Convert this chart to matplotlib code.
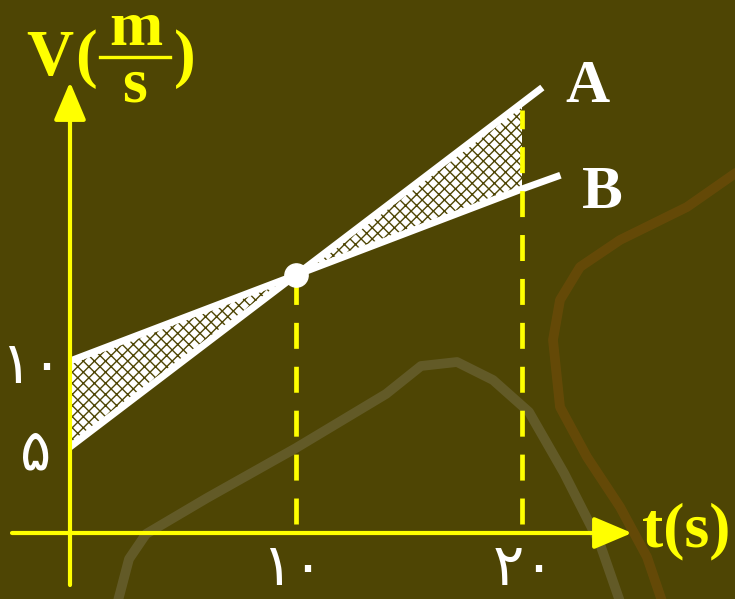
import numpy as np
import matplotlib
matplotlib.use("Agg")
from matplotlib import pyplot as plt
from matplotlib.transforms import Affine2D

# velocity-time lines (t in s, v in m/s)
t_A = [0, 10, 20, 20.9]
v_A = [5, 15, 25, 25.9]
t_B = [0, 10, 20, 21.7]
v_B = [10, 15, 20, 20.8]
t_fill = [0, 10, 20]
fill_A = [5, 15, 25]
fill_B = [10, 15, 20]
t_marks = [10, 20]
v_marks = [15, 25]
x_ticks = ["۱۰", "۲۰"]
y_ticks = ["۱۰", "۵"]
y_tick_vals = [10, 5]

# faint background strokes from the photo (pixel coords)
grey_x = [114, 129, 146, 207, 296, 386, 421, 457, 493, 529, 564, 600, 625]
grey_y = [616, 559, 534, 498, 448, 394, 366, 362, 380, 412, 473, 544, 616]
orange_x = [740, 687, 620, 580, 560, 553, 560, 587, 620, 647, 665]
orange_y = [170, 207, 240, 267, 300, 340, 407, 457, 507, 557, 610]

BG = "#4e4504"
YEL = "#ffff00"
W, H = 735, 599

fig = plt.figure(figsize=(7.35, 5.99), dpi=100, facecolor=BG)
ax = fig.add_axes([0, 0, 1, 1])
ax.set_facecolor(BG)
ax.set_xlim(-70 / 22.6, 665 / 22.6)
ax.set_ylim(-66 / 17.2, 533 / 17.2)
ax.axis("off")

pix = Affine2D().scale(1 / W, -1 / H).translate(0, 1) + fig.transFigure
ax.plot(grey_x, grey_y, color="#77704a", lw=7, alpha=0.5, transform=pix,
        solid_joinstyle="round", solid_capstyle="round", zorder=1)
ax.plot(orange_x, orange_y, color="#80500c", lw=7, alpha=0.45, transform=pix,
        solid_joinstyle="round", solid_capstyle="round", zorder=1)

# shaded area between the lines
plt.rcParams["hatch.linewidth"] = 1.0
ax.fill_between(t_fill, fill_A, fill_B, facecolor="white", edgecolor=BG,
                hatch="xxx", linewidth=0, zorder=3)
ax.plot(t_A, v_A, color="white", lw=5, solid_capstyle="butt", zorder=4)
ax.plot(t_B, v_B, color="white", lw=5, solid_capstyle="butt", zorder=4)
ax.scatter([t_marks[0]], [v_marks[0]], s=280, color="white", zorder=6)

# dashed guides
for t, v in zip(t_marks, v_marks):
    ax.plot([t, t], [0.5, v - 0.4], color=YEL, lw=3.4,
            linestyle=(0, (5.5, 3.8)), zorder=5)

# axes with arrows
arrow = dict(arrowstyle="-|>,head_length=1.3,head_width=0.55", color=YEL,
             lw=3, mutation_scale=18, shrinkA=0, shrinkB=0)
ax.annotate("", xy=(562 / 22.6, 0), xytext=(-58 / 22.6, 0), arrowprops=arrow, zorder=5)
ax.annotate("", xy=(0, 451 / 17.2), xytext=(0, -52 / 17.2), arrowprops=arrow, zorder=5)

# labels
serif = dict(family="Liberation Serif", weight="bold")
ft = fig.transFigure
def fx(x):
    return x / W
def fy(y):
    return 1 - y / H

fig.text(fx(50), fy(75), "V", color=YEL, fontsize=47, ha="center", va="baseline", **serif)
fig.text(fx(86), fy(59), "(", color=YEL, fontsize=47, ha="center", va="center", **serif)
fig.text(fx(136), fy(45), "m", color=YEL, fontsize=46, ha="center", va="baseline", **serif)
fig.text(fx(135), fy(102), "s", color=YEL, fontsize=46, ha="center", va="baseline", **serif)
fig.text(fx(185), fy(59), ")", color=YEL, fontsize=47, ha="center", va="center", **serif)
fig.add_artist(plt.Line2D([fx(100), fx(170)], [fy(57), fy(57)], color=YEL, lw=2.4, transform=ft))
fig.text(fx(686), fy(531), "t(s)", color=YEL, fontsize=46, ha="center", va="center", **serif)
fig.text(fx(587), fy(102), "A", color="white", fontsize=44, ha="center", va="baseline", **serif)
fig.text(fx(602), fy(208), "B", color="white", fontsize=44, ha="center", va="baseline", **serif)

# Persian tick labels
digit = dict(color="white", fontsize=42, ha="center", va="baseline", family=["DejaVu Sans"])
for t, lab, base, dx in zip(t_marks, x_ticks, [585, 585], [-4, 2]):
    fig.text(fx(70 + 22.6 * t + dx), fy(base), lab, **digit)
for v, lab, cx in zip(y_tick_vals, y_ticks, [31, 36]):
    fig.text(fx(cx), fy(533 - 17.2 * v + 22), lab, **digit)

fig.savefig("out.png", dpi=100, facecolor=BG)
